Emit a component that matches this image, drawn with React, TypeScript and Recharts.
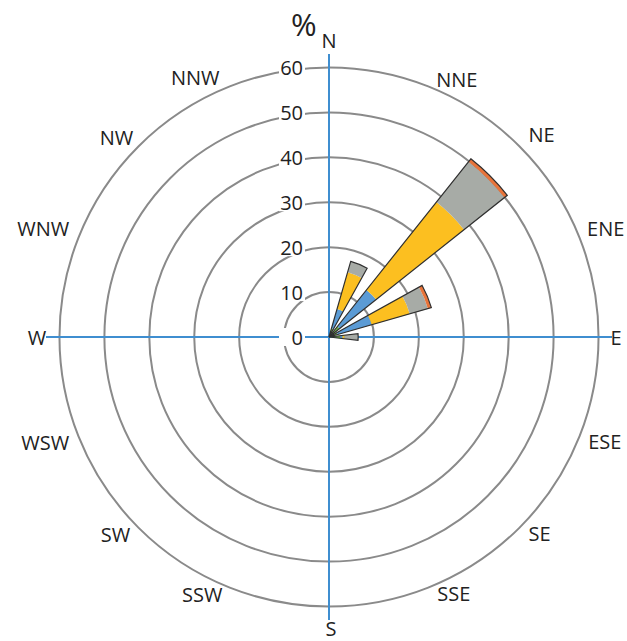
import React from "react";
import { PolarAngleAxis, PolarGrid, PolarRadiusAxis, RadialBar, RadialBarChart } from "recharts";

const directions = ["N", "NNE", "NE", "ENE", "E", "ESE", "SE", "SSE", "S", "SSW", "SW", "WSW", "W", "WNW", "NW", "NNW"];

// frequency (%) per speed class, stacked from the centre outwards
const class1 = [0, 2, 3, 2, 2.5, 0, 0, 0, 0, 0, 0, 0, 0, 0, 0, 0];
const class2 = [0, 4.5, 10.4, 7.9, 0.5, 0, 0, 0, 0, 0, 0, 0, 0, 0, 0, 0];
const class3 = [0, 8.5, 25, 8.8, 0.5, 0, 0, 0, 0, 0, 0, 0, 0, 0, 0, 0];
const class4 = [0, 2.5, 11.5, 4.2, 3, 0, 0, 0, 0, 0, 0, 0, 0, 0, 0, 0];
const class5 = [0, 0, 0.8, 0.8, 0, 0, 0, 0, 0, 0, 0, 0, 0, 0, 0, 0];

const radiusTicks = [0, 10, 20, 30, 40, 50, 60];

const chartData = directions.map((dir, i) => ({
  dir,
  class1: class1[i],
  class2: class2[i],
  class3: class3[i],
  class4: class4[i],
  class5: class5[i],
  total: class1[i] + class2[i] + class3[i] + class4[i] + class5[i],
}));

const FONT = "'Open Sans', sans-serif";
const W = 627;
const H = 641;
const CX = 329;
const CY = 337;
const HALF_BAND = 11.25; // angle ticks sit on the band edge, bars in the middle
const LABEL_R = 292;

// hand placement of the compass labels in the original is a bit loose
const labelNudge: Record<string, [number, number]> = {
  N: [0, -5],
  NNE: [16, 12],
  NE: [6, 4],
  ENE: [7, 3],
  E: [-5, 0],
  ESE: [6, -7],
  SE: [4, -10],
  SSE: [13, -13],
  S: [2, -1],
  SSW: [-15, -12],
  SW: [-7, -9],
  WSW: [-14, -6],
  W: [0, 0],
  WNW: [-16, 3],
  NW: [-6, 7],
  NNW: [-22, 10],
};

const RadiusTick = ({ x, y, payload }: any) => (
  <g>
    <rect x={x - 50} y={y - 9} width={26} height={18} fill="#fff" />
    <text x={x - 26} y={y} textAnchor="end" dominantBaseline="central" fontSize={20} fill="#222" fontFamily={FONT}>
      {payload.value}
    </text>
  </g>
);

const DirectionTick = ({ payload }: any) => {
  const a = ((payload.coordinate + HALF_BAND) * Math.PI) / 180;
  const [dx, dy] = labelNudge[payload.value] ?? [0, 0];
  const x = CX + LABEL_R * Math.cos(a) + dx;
  const y = CY - LABEL_R * Math.sin(a) + dy;
  return (
    <text x={x} y={y} textAnchor="middle" dominantBaseline="central" fontSize={20} fill="#222" fontFamily={FONT}>
      {payload.value}
    </text>
  );
};

export default function App() {
  return (
    <div style={{ position: "absolute", left: 0, top: 0, width: W, height: H, background: "#fff" }}>
      <span
        style={{ position: "absolute", left: 291, top: 9, fontSize: 31, fontFamily: FONT, color: "#222", lineHeight: 1 }}
      >
        %
      </span>
      <RadialBarChart
        width={W}
        height={H}
        data={chartData}
        cx={CX}
        cy={CY}
        innerRadius={0}
        outerRadius={283}
        startAngle={90 - HALF_BAND}
        endAngle={-270 - HALF_BAND}
        layout="centric"
        barCategoryGap="21%"
        margin={{ top: 0, right: 0, bottom: 0, left: 0 }}
      >
        <PolarGrid gridType="circle" radialLines={false} stroke="#8a8a8a" strokeWidth={2} />
        <PolarGrid gridType="circle" polarAngles={[0, 90, 180, 270]} polarRadius={[]} stroke="#3f8ed0" strokeWidth={2} />
        <PolarAngleAxis type="category" dataKey="dir" axisLine={false} tickLine={false} tick={<DirectionTick />} />
        <PolarRadiusAxis
          type="number"
          domain={[0, 62.9]}
          ticks={radiusTicks}
          angle={90}
          axisLine={false}
          tickLine={false}
          tick={<RadiusTick />}
        />
        <PolarAngleAxis angleAxisId={1} type="category" dataKey="dir" axisLine={false} tickLine={false} tick={false} />
        <PolarRadiusAxis radiusAxisId={1} type="number" domain={[0, 62.9]} axisLine={false} tickLine={false} tick={false} />
        <RadialBar dataKey="class1" stackId="a" fill="#70ad47" isAnimationActive={false} />
        <RadialBar dataKey="class2" stackId="a" fill="#5b9bd5" isAnimationActive={false} />
        <RadialBar dataKey="class3" stackId="a" fill="#fcbf20" isAnimationActive={false} />
        <RadialBar dataKey="class4" stackId="a" fill="#a7aba6" isAnimationActive={false} />
        <RadialBar dataKey="class5" stackId="a" fill="#e8743a" isAnimationActive={false} />
        <RadialBar
          dataKey="total"
          angleAxisId={1}
          radiusAxisId={1}
          fill="none"
          stroke="#2f2f2f"
          strokeWidth={1.2}
          isAnimationActive={false}
        />
      </RadialBarChart>
    </div>
  );
}
